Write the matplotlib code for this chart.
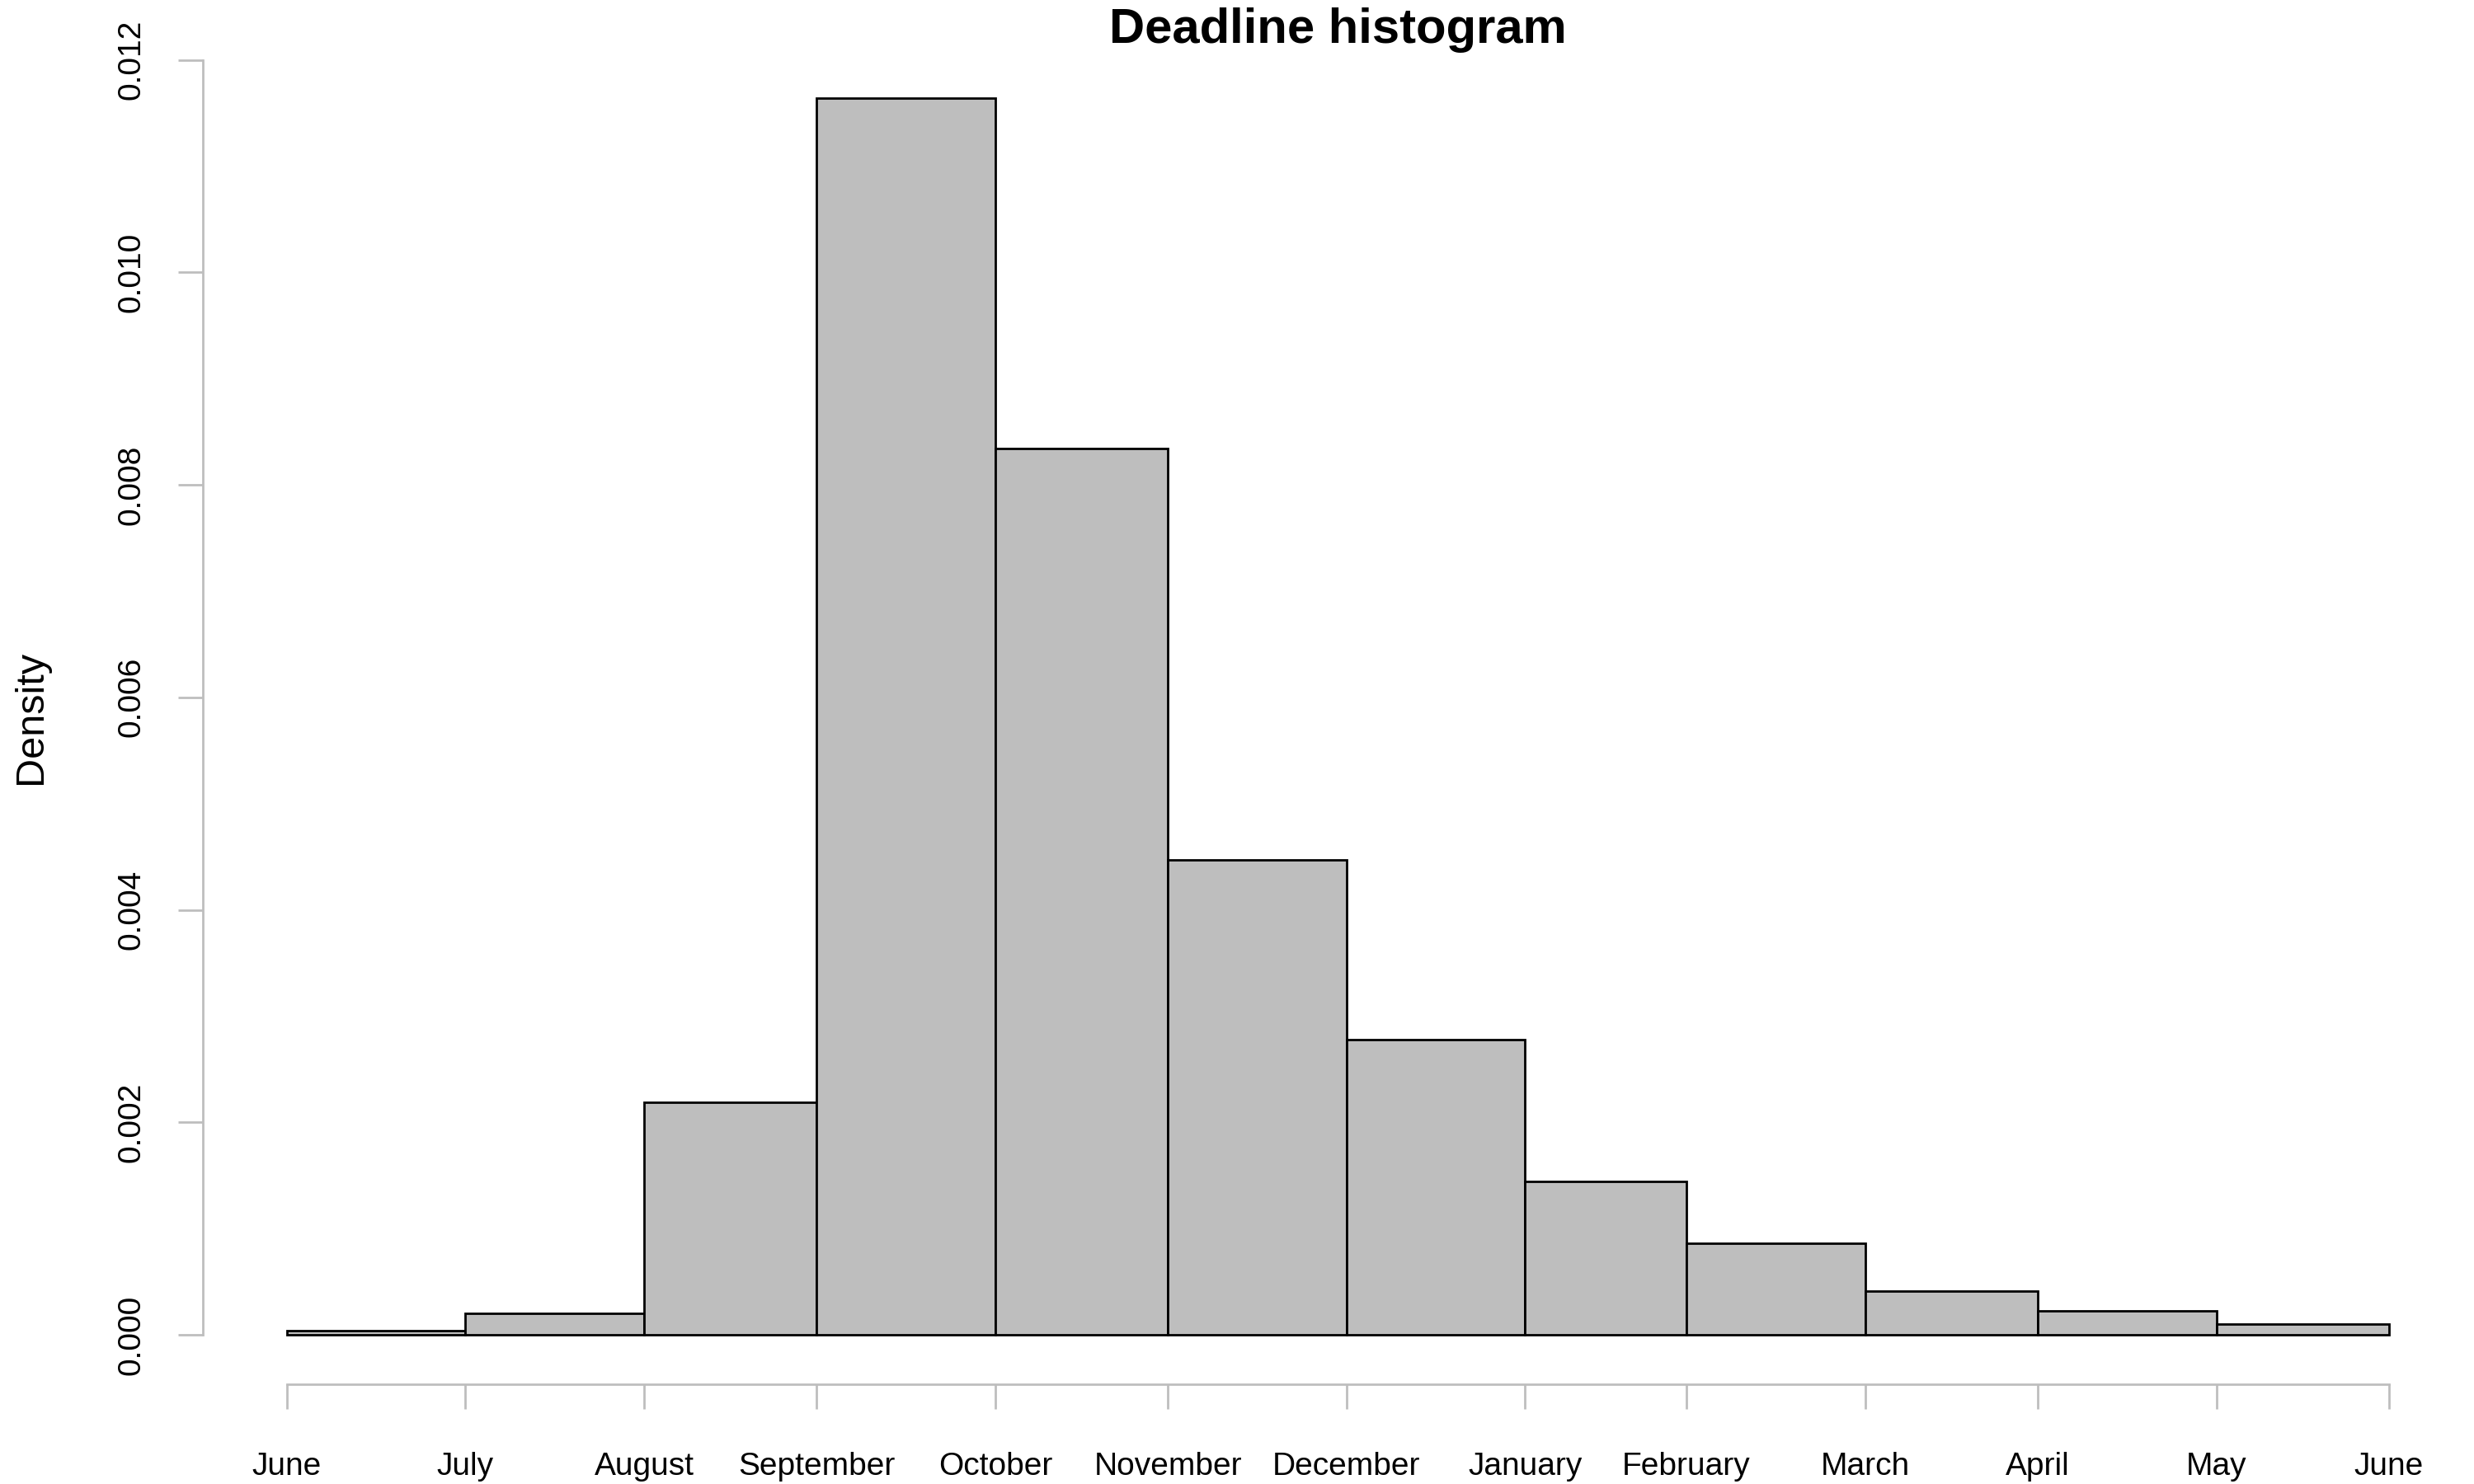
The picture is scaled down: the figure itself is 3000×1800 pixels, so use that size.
import numpy as np
import matplotlib
matplotlib.use('Agg')
import matplotlib.pyplot as plt

# month tick labels (axis boundaries) and bin widths in days
tick_labels = ['June', 'July', 'August', 'September', 'October', 'November',
               'December', 'January', 'February', 'March', 'April', 'May', 'June']
bin_days = [31, 31, 30, 31, 30, 31, 31, 28, 31, 30, 31, 30]
density = [0.00004, 0.0002, 0.00219, 0.01164, 0.00834, 0.00447,
           0.00278, 0.00144, 0.00086, 0.00041, 0.000225, 0.000103]
y_ticks = [0.000, 0.002, 0.004, 0.006, 0.008, 0.010, 0.012]

plt.rcParams['font.family'] = ['Liberation Sans', 'DejaVu Sans']

edges = np.concatenate([[0], np.cumsum(bin_days)])
grey = '#BEBEBE'

fig = plt.figure(figsize=(15, 9), dpi=200)
ax = fig.add_axes([246 / 3000, 1 - 1679 / 1800, (2999 - 246) / 3000, (1679 - 59) / 1800])

ax.bar(edges[:-1], density, width=bin_days, align='edge',
       color=grey, edgecolor='black', linewidth=1.0)

# R-style 4% padding around data range
span = edges[-1] - edges[0]
ymax = max(density)
ax.set_xlim(edges[0] - 0.04 * span, edges[-1] + 0.04 * span)
ax.set_ylim(-0.04 * ymax, ymax * 1.04)

for s in ['top', 'right']:
    ax.spines[s].set_visible(False)
ax.spines['left'].set_bounds(y_ticks[0], y_ticks[-1])
ax.spines['bottom'].set_bounds(edges[0], edges[-1])
for s in ['left', 'bottom']:
    ax.spines[s].set_color(grey)
    ax.spines[s].set_linewidth(1.0)

ax.set_xticks(edges)
ax.set_xticklabels(tick_labels, fontsize=14)
ax.set_yticks(y_ticks)
ax.set_yticklabels(['%.3f' % v for v in y_ticks], fontsize=14, rotation=90, va='center')
ax.tick_params(axis='both', direction='out', length=10.8, width=1.0, color=grey)
ax.tick_params(axis='x', pad=18.7)
ax.tick_params(axis='y', pad=14)

fig.text(1622 / 3000, 1 - 37 / 1800, 'Deadline histogram', ha='center', va='center',
         fontsize=21.5, fontweight='bold')
fig.text(38 / 3000, 1 - 870 / 1800, 'Density', ha='center', va='center',
         rotation=90, fontsize=17.5)

fig.savefig('out.png', dpi=200, facecolor='white')
